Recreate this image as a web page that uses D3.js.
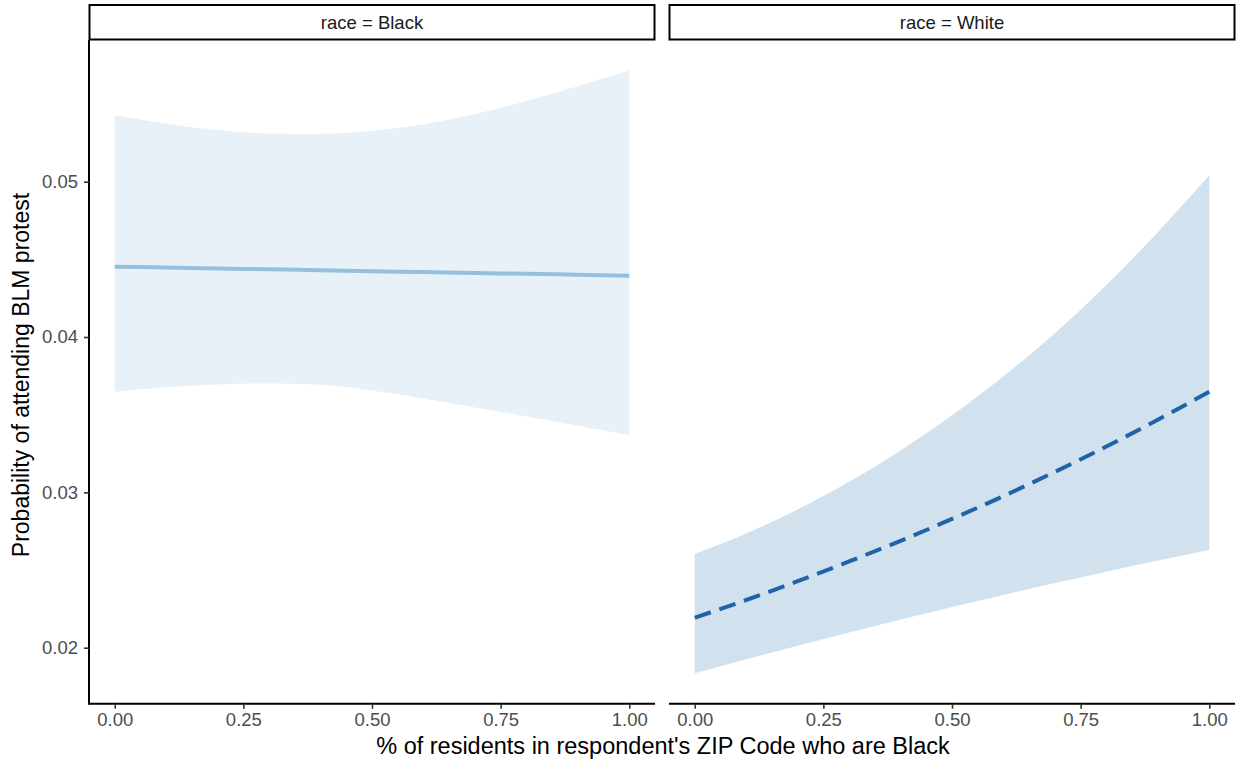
<!DOCTYPE html>
<html>
<head>
<meta charset="utf-8">
<script src="https://cdn.jsdelivr.net/npm/d3@7"></script>
<style>
  html, body { margin: 0; padding: 0; background: #ffffff; }
  svg { display: block; font-family: "Liberation Sans", Arial, Helvetica, sans-serif; }
</style>
</head>
<body>
<svg id="chart" width="1244" height="763"></svg>
<script>
// ---- data ----
const facets = ["Black", "White"];
const xValues = [0, 0.1, 0.2, 0.3, 0.4, 0.5, 0.6, 0.7, 0.8, 0.9, 1.0];

const blackFit   = [0.04453, 0.04447, 0.04441, 0.04436, 0.04430, 0.04424, 0.04418, 0.04412, 0.04407, 0.04401, 0.04395];
const blackLower = [0.03648, 0.03676, 0.03695, 0.03701, 0.03692, 0.03656, 0.03605, 0.03547, 0.03488, 0.03429, 0.03369];
const blackUpper = [0.05429, 0.05373, 0.05333, 0.05310, 0.05308, 0.05328, 0.05370, 0.05435, 0.05520, 0.05615, 0.05715];

const whiteFit   = [0.02193, 0.02307, 0.02428, 0.02555, 0.02688, 0.02829, 0.02976, 0.03132, 0.03295, 0.03467, 0.03648];
const whiteLower = [0.01835, 0.01925, 0.02013, 0.02098, 0.02182, 0.02262, 0.02340, 0.02416, 0.02489, 0.02561, 0.02629];
const whiteUpper = [0.02603, 0.02735, 0.02890, 0.03068, 0.03270, 0.03496, 0.03748, 0.04025, 0.04335, 0.04675, 0.05039];

const xTicks = [0, 0.25, 0.5, 0.75, 1.0];
const xTickLabels = ["0.00", "0.25", "0.50", "0.75", "1.00"];
const yTicks = [0.02, 0.03, 0.04, 0.05];
const yTickLabels = ["0.02", "0.03", "0.04", "0.05"];

const stripLabels = ["race = Black", "race = White"];
const xTitle = "% of residents in respondent's ZIP Code who are Black";
const yTitle = "Probability of attending BLM protest";

// ---- layout / styles ----
const svg = d3.select("#chart");
const panelTop = 40, panelBottom = 703.7;
const panels = [
  { left: 89, right: 655, fit: blackFit, lo: blackLower, hi: blackUpper,
    ribbon: "#e8f1f7", line: "#93c0dc", dash: null, strip: stripLabels[0], yAxis: true },
  { left: 669, right: 1235, fit: whiteFit, lo: whiteLower, hi: whiteUpper,
    ribbon: "#d1e1ed", line: "#1f63a8", dash: "17,9", strip: stripLabels[1], yAxis: false }
];

const y = d3.scaleLinear().domain([0.016395, 0.05912]).range([panelBottom, panelTop]);
const tickFont = "18.5px";

panels.forEach((p, i) => {
  const x = d3.scaleLinear().domain([-0.05, 1.05]).range([p.left, p.right]);
  const g = svg.append("g");

  const pts = xValues.map((xv, k) => ({ x: xv, fit: p.fit[k], lo: p.lo[k], hi: p.hi[k] }));

  // ribbon
  g.append("path")
    .datum(pts)
    .attr("fill", p.ribbon)
    .attr("d", d3.area().curve(d3.curveMonotoneX)
      .x(d => x(d.x)).y0(d => y(d.lo)).y1(d => y(d.hi)));

  // fit line
  g.append("path")
    .datum(pts)
    .attr("fill", "none")
    .attr("stroke", p.line)
    .attr("stroke-width", 4)
    .attr("stroke-dasharray", p.dash)
    .attr("d", d3.line().curve(d3.curveMonotoneX).x(d => x(d.x)).y(d => y(d.fit)));

  // x axis
  const xAxis = d3.axisBottom(x).tickValues(xTicks)
    .tickFormat((d, j) => xTickLabels[j]).tickSizeOuter(0).tickSize(5).tickPadding(4);
  const xg = g.append("g").attr("transform", `translate(0,${panelBottom})`).call(xAxis);
  xg.select(".domain").attr("stroke", "#000").attr("stroke-width", 2)
    .attr("d", `M${p.left},0H${p.right}`);
  xg.selectAll(".tick line").attr("stroke", "#333").attr("stroke-width", 1.6);
  xg.selectAll(".tick text").attr("fill", "#4d4d4d").style("font-size", tickFont)
    .style("font-family", "'Liberation Sans', Arial, sans-serif");

  // y axis (left panel only)
  if (p.yAxis) {
    const yAxis = d3.axisLeft(y).tickValues(yTicks)
      .tickFormat((d, j) => yTickLabels[j]).tickSizeOuter(0).tickSize(5).tickPadding(6);
    const yg = g.append("g").attr("transform", `translate(${p.left},0)`).call(yAxis);
    yg.select(".domain").attr("stroke", "#000").attr("stroke-width", 2)
      .attr("d", `M0,${panelTop}V${panelBottom + 1}`);
    yg.selectAll(".tick line").attr("stroke", "#333").attr("stroke-width", 1.6);
    yg.selectAll(".tick text").attr("fill", "#4d4d4d").style("font-size", tickFont)
      .style("font-family", "'Liberation Sans', Arial, sans-serif");
  }

  // strip
  g.append("rect")
    .attr("x", p.left + 0.5).attr("y", 5)
    .attr("width", p.right - p.left - 1).attr("height", 34.5)
    .attr("fill", "#ffffff").attr("stroke", "#000").attr("stroke-width", 2);
  g.append("text")
    .attr("x", (p.left + p.right) / 2).attr("y", 22.5)
    .attr("text-anchor", "middle").attr("dominant-baseline", "central")
    .attr("fill", "#1a1a1a").style("font-size", "18.5px")
    .text(p.strip);
});

// axis titles
svg.append("text")
  .attr("x", 663).attr("y", 746)
  .attr("text-anchor", "middle").attr("dominant-baseline", "central")
  .attr("fill", "#000").style("font-size", "23.5px")
  .text(xTitle);

svg.append("text")
  .attr("transform", `translate(21,375) rotate(-90)`)
  .attr("text-anchor", "middle").attr("dominant-baseline", "central")
  .attr("fill", "#000").style("font-size", "23px")
  .text(yTitle);
</script>
</body>
</html>
